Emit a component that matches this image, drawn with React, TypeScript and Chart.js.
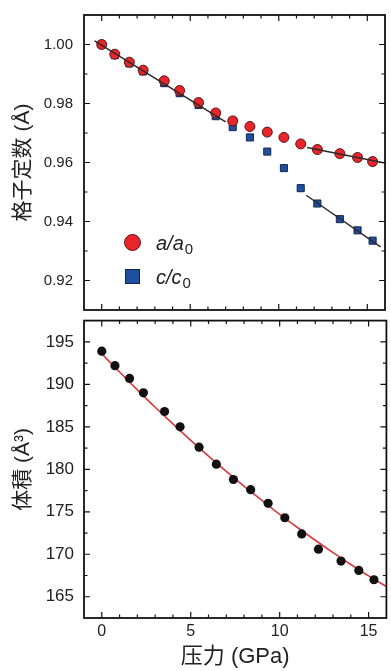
import React, { useEffect, useRef } from "react";
import { Chart, registerables } from "chart.js";

Chart.register(...registerables);

// ---------- data ----------
const pressure = [0, 0.74, 1.56, 2.34, 3.53, 4.4, 5.47, 6.44, 7.4, 8.37, 9.35, 10.29, 11.24, 12.18, 13.45, 14.45, 15.3];
const aRatio = [1.0, 0.9967, 0.994, 0.9913, 0.9877, 0.9844, 0.9803, 0.9768, 0.9741, 0.9722, 0.9703, 0.9685, 0.9663, 0.9644, 0.963, 0.9617, 0.9603];
const cRatio = [1.0, 0.9964, 0.9936, 0.9909, 0.9869, 0.9835, 0.9795, 0.9757, 0.972, 0.9685, 0.9637, 0.9581, 0.9513, 0.9461, 0.9408, 0.937, 0.9335];
const volume = [193.9, 192.2, 190.7, 189.0, 186.8, 185.0, 182.6, 180.6, 178.8, 177.6, 176.0, 174.3, 172.4, 170.6, 169.2, 168.1, 167.0];

const aFitLowP = [-0.4, 7.0];
const aFitLowV = [1.0012, 0.9738];
const aFitHighP = [11.6, 16.0];
const aFitHighV = [0.9651, 0.9598];
const cFitHighP = [11.55, 15.75];
const cFitHighV = [0.9489, 0.9314];

const volFitP = [0, 1, 2, 3, 4, 5, 6, 7, 8, 9, 10, 11, 12, 13, 14, 15, 16];
const volFitV = [193.6, 191.45, 189.35, 187.3, 185.35, 183.4, 181.55, 179.75, 178.0, 176.35, 174.7, 173.15, 171.65, 170.2, 168.8, 167.45, 166.2];

const xTickLabels = [0, 5, 10, 15];
const topYTicks = [0.92, 0.94, 0.96, 0.98, 1.0];
const bottomYTicks = [165, 170, 175, 180, 185, 190, 195];

const legendLabels = [
  { main: "a/a", sub: "0" },
  { main: "c/c", sub: "0" },
];

const FONT = "'Liberation Sans', Arial, 'Noto Sans CJK SC', sans-serif";
const TEXT = "#222";

const pts = (xs: number[], ys: number[]) => xs.map((x, i) => ({ x, y: ys[i] }));

const zeroPad = (s: any) => {
  s.paddingTop = 0;
  s.paddingBottom = 0;
  s.paddingLeft = 0;
  s.paddingRight = 0;
};

function makeFrame(xMajor: number[], xStep: number, yMajor: number[], yStep: number) {
  return {
    id: "frameTicks",
    afterDraw(chart: any) {
      const { ctx, chartArea: a, scales } = chart;
      const xs = scales.x;
      const ys = scales.y;
      const isMajor = (arr: number[], v: number) => arr.some((m) => Math.abs(m - v) < 1e-6);
      ctx.save();
      ctx.strokeStyle = "#111";
      ctx.lineWidth = 1.2;
      ctx.beginPath();
      for (let v = Math.ceil(xs.min / xStep) * xStep; v <= xs.max + 1e-9; v += xStep) {
        const p = xs.getPixelForValue(v);
        if (p <= a.left + 1 || p >= a.right - 1) continue;
        const len = isMajor(xMajor, v) ? 6 : 3.5;
        ctx.moveTo(p, a.top);
        ctx.lineTo(p, a.top + len);
        ctx.moveTo(p, a.bottom);
        ctx.lineTo(p, a.bottom - len);
      }
      const y0 = Math.ceil(ys.min / yStep - 1e-6) * yStep;
      for (let k = 0; ; k++) {
        const v = y0 + k * yStep;
        if (v > ys.max + 1e-9) break;
        const p = ys.getPixelForValue(v);
        if (p <= a.top + 1 || p >= a.bottom - 1) continue;
        const len = isMajor(yMajor, v) ? 6 : 3.5;
        ctx.moveTo(a.left, p);
        ctx.lineTo(a.left + len, p);
        ctx.moveTo(a.right, p);
        ctx.lineTo(a.right - len, p);
      }
      ctx.stroke();
      ctx.lineWidth = 1.8;
      ctx.strokeRect(a.left, a.top, a.right - a.left, a.bottom - a.top);
      ctx.restore();
    },
  };
}

const legendPlugin = {
  id: "innerLegend",
  afterDraw(chart: any) {
    const { ctx, chartArea: a } = chart;
    const cx = a.left + 48.5;
    const rows = [a.top + 227.5, a.top + 261.5];
    ctx.save();
    ctx.beginPath();
    ctx.arc(cx, rows[0], 8, 0, Math.PI * 2);
    ctx.fillStyle = "#e8252b";
    ctx.fill();
    ctx.lineWidth = 1;
    ctx.strokeStyle = "#5a1515";
    ctx.stroke();
    ctx.fillStyle = "#1f4f9e";
    ctx.fillRect(cx - 7, rows[1] - 7, 14, 14);
    ctx.strokeStyle = "#10244d";
    ctx.strokeRect(cx - 7, rows[1] - 7, 14, 14);
    ctx.fillStyle = TEXT;
    ctx.textBaseline = "alphabetic";
    legendLabels.forEach((l, i) => {
      const y = rows[i];
      ctx.font = `italic 20px ${FONT}`;
      const tx = a.left + 72;
      ctx.fillText(l.main, tx, y + 7);
      const w = ctx.measureText(l.main).width;
      ctx.font = `15px ${FONT}`;
      ctx.fillText(l.sub, tx + w + 1, y + 11);
    });
    ctx.restore();
  },
};

export default function App() {
  const topRef = useRef<HTMLCanvasElement>(null);
  const botRef = useRef<HTMLCanvasElement>(null);

  useEffect(() => {
    const top = new Chart(topRef.current as HTMLCanvasElement, {
      type: "scatter",
      data: {
        datasets: [
          { data: pts(aFitLowP, aFitLowV), showLine: true, borderColor: "#2a2a2a", borderWidth: 1.5, pointRadius: 0 },
          { data: pts(aFitHighP, aFitHighV), showLine: true, borderColor: "#2a2a2a", borderWidth: 1.5, pointRadius: 0 },
          { data: pts(cFitHighP, cFitHighV), showLine: true, borderColor: "#2a2a2a", borderWidth: 1.5, pointRadius: 0 },
          {
            label: "a/a0",
            data: pts(pressure, aRatio),
            pointStyle: "circle",
            pointRadius: 5,
            backgroundColor: "#e8252b",
            borderColor: "#5a1515",
            borderWidth: 1,
          },
          {
            label: "c/c0",
            data: pts(pressure, cRatio),
            pointStyle: "rect",
            pointRadius: 5,
            backgroundColor: "#1f4f9e",
            borderColor: "#10244d",
            borderWidth: 1,
          },
        ],
      },
      options: {
        animation: false,
        responsive: false,
        devicePixelRatio: 1,
        layout: { padding: { top: 15, right: 1, bottom: 2, left: 0 } },
        plugins: { legend: { display: false }, tooltip: { enabled: false } },
        scales: {
          x: { type: "linear", min: -1, max: 16, display: false, afterFit: zeroPad },
          y: {
            type: "linear",
            min: 0.91,
            max: 1.01,
            afterBuildTicks: (s: any) => {
              s.ticks = topYTicks.map((v) => ({ value: v }));
            },
            afterFit: (s: any) => {
              s.width = 84;
              zeroPad(s);
            },
            grid: { display: false, drawTicks: false },
            border: { display: false },
            ticks: {
              font: { family: FONT, size: 15 },
              color: TEXT,
              padding: 11,
              callback: (v: any) => Number(v).toFixed(2),
            },
            title: {
              display: true,
              text: "格子定数 (Å)",
              font: { family: FONT, size: 21 },
              color: TEXT,
              padding: { top: 11, bottom: 0 },
            },
          },
        },
      },
      plugins: [makeFrame(xTickLabels, 1, topYTicks, 0.01), legendPlugin],
    } as any);

    const bot = new Chart(botRef.current as HTMLCanvasElement, {
      type: "scatter",
      data: {
        datasets: [
          {
            data: pts(pressure, volume),
            pointStyle: "circle",
            pointRadius: 4.6,
            backgroundColor: "#111",
            borderColor: "#111",
            borderWidth: 0,
          },
          {
            data: pts(volFitP, volFitV),
            showLine: true,
            borderColor: "#d83a40",
            borderWidth: 1.6,
            pointRadius: 0,
            cubicInterpolationMode: "monotone",
          },
        ],
      },
      options: {
        animation: false,
        responsive: false,
        devicePixelRatio: 1,
        layout: { padding: { top: 2, right: 1, bottom: 0, left: 0 } },
        plugins: { legend: { display: false }, tooltip: { enabled: false } },
        scales: {
          x: {
            type: "linear",
            min: -1,
            max: 16,
            afterBuildTicks: (s: any) => {
              s.ticks = xTickLabels.map((v) => ({ value: v }));
            },
            afterFit: (s: any) => {
              s.height = 53;
              zeroPad(s);
            },
            grid: { display: false, drawTicks: false },
            border: { display: false },
            ticks: {
              font: { family: FONT, size: 16 },
              color: TEXT,
              padding: 4,
              maxRotation: 0,
              autoSkip: false,
            },
            title: {
              display: true,
              text: "压力 (GPa)",
              font: { family: FONT, size: 22 },
              color: TEXT,
              padding: { top: 0, bottom: 1 },
            },
          },
          y: {
            type: "linear",
            min: 162.5,
            max: 197.5,
            afterBuildTicks: (s: any) => {
              s.ticks = bottomYTicks.map((v) => ({ value: v }));
            },
            afterFit: (s: any) => {
              s.width = 84;
              zeroPad(s);
            },
            grid: { display: false, drawTicks: false },
            border: { display: false },
            ticks: {
              font: { family: FONT, size: 17 },
              color: TEXT,
              padding: 10,
            },
            title: {
              display: true,
              text: "体積 (Å³)",
              font: { family: FONT, size: 21 },
              color: TEXT,
              padding: { top: 11, bottom: 0 },
            },
          },
        },
      },
      plugins: [makeFrame(xTickLabels, 1, bottomYTicks, 2.5)],
    } as any);

    return () => {
      top.destroy();
      bot.destroy();
    };
  }, []);

  return (
    <div style={{ position: "absolute", left: 0, top: 0, width: 391, height: 671, background: "#fff" }}>
      <canvas ref={topRef} width={391} height={316} style={{ position: "absolute", left: 0, top: 0, display: "block" }} />
      <canvas ref={botRef} width={391} height={355} style={{ position: "absolute", left: 0, top: 316, display: "block" }} />
    </div>
  );
}
